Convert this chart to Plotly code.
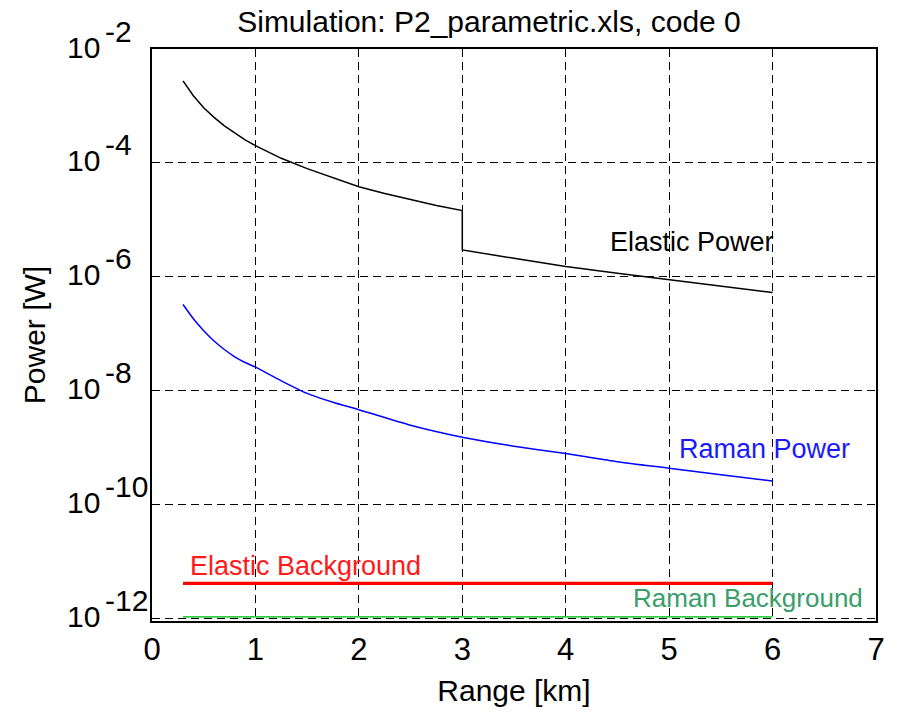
import math
import plotly.graph_objects as go

# ---- data ----
elastic_range = [0.3, 0.4, 0.5, 0.6, 0.7, 0.8, 0.9, 1.0, 1.25, 1.5, 1.75, 2.0, 2.25, 2.5, 2.75,
                 3.0, 3.0, 3.5, 4.0, 4.5, 5.0, 5.5, 6.0]
elastic_power = [2.75e-3, 1.51e-3, 9.3e-4, 6.3e-4, 4.47e-4, 3.31e-4, 2.54e-4, 2.0e-4, 1.2e-4, 7.9e-5,
                 5.5e-5, 3.8e-5, 2.9e-5, 2.24e-5, 1.78e-5, 1.45e-5, 2.95e-6, 2.1e-6, 1.51e-6,
                 1.15e-6, 8.9e-7, 6.9e-7, 5.25e-7]

raman_range = [0.3, 0.4, 0.5, 0.6, 0.7, 0.8, 0.9, 1.0, 1.25, 1.5, 1.75, 2.0, 2.5, 3.0, 3.5,
               4.0, 4.5, 5.0, 5.5, 6.0]
raman_power = [3.24e-7, 1.82e-7, 1.12e-7, 7.4e-8, 5.25e-8, 3.9e-8, 3.1e-8, 2.57e-8, 1.48e-8, 8.9e-9,
               6.2e-9, 4.6e-9, 2.45e-9, 1.51e-9, 1.05e-9, 7.8e-10, 5.6e-10, 4.3e-10, 3.3e-10, 2.57e-10]

background_range = [0.3, 6.0]
elastic_background = [4.1e-12, 4.1e-12]
raman_background = [1.05e-12, 1.05e-12]

x_ticks = [0, 1, 2, 3, 4, 5, 6, 7]
y_ticks = [1e-2, 1e-4, 1e-6, 1e-8, 1e-10, 1e-12]
y_tick_base = ["10", "10", "10", "10", "10", "10"]
y_tick_exp = ["-2", "-4", "-6", "-8", "-10", "-12"]

title_text = "Simulation: P2_parametric.xls, code 0"

FONT = "Liberation Sans, Arial, sans-serif"

fig = go.Figure()
fig.add_trace(go.Scatter(x=elastic_range, y=elastic_power, mode="lines",
                         line=dict(color="black", width=1.5), name="Elastic Power"))
fig.add_trace(go.Scatter(x=raman_range, y=raman_power, mode="lines",
                         line=dict(color="#0000ff", width=1.5, shape="spline", smoothing=0.6),
                         name="Raman Power"))
fig.add_trace(go.Scatter(x=background_range, y=elastic_background, mode="lines",
                         line=dict(color="#ff0000", width=3.2), name="Elastic Background"))
fig.add_trace(go.Scatter(x=background_range, y=raman_background, mode="lines",
                         line=dict(color="#33cc44", width=1.8), name="Raman Background"))

annotations = []
# curve labels
annotations.append(dict(x=4.41, y=-5.395, xref="x", yref="y", text="Elastic Power",
                        showarrow=False, xanchor="left", yanchor="middle",
                        font=dict(family=FONT, size=27, color="black")))
annotations.append(dict(x=5.08, y=-9.035, xref="x", yref="y", text="Raman Power",
                        showarrow=False, xanchor="left", yanchor="middle",
                        font=dict(family=FONT, size=27, color="#1a1aff")))
annotations.append(dict(x=0.35, y=-11.09, xref="x", yref="y", text="Elastic Background",
                        showarrow=False, xanchor="left", yanchor="middle",
                        font=dict(family=FONT, size=27, color="#ff1a1a")))
annotations.append(dict(x=4.63, y=-11.64, xref="x", yref="y", text="Raman Background",
                        showarrow=False, xanchor="left", yanchor="middle",
                        font=dict(family=FONT, size=26, color="#3a9e6a")))

# y tick labels (MATLAB-style 10 with full-size raised exponent)
for val, base, ex in zip(y_ticks, y_tick_base, y_tick_exp):
    lv = math.log10(val)
    annotations.append(dict(x=-0.069, y=lv, xref="paper", yref="y", text=base,
                            showarrow=False, xanchor="right", yanchor="middle", yshift=2,
                            font=dict(family=FONT, size=30, color="black")))
    annotations.append(dict(x=-0.068, y=lv, xref="paper", yref="y", text=ex,
                            showarrow=False, xanchor="left", yanchor="middle", yshift=18,
                            font=dict(family=FONT, size=30, color="black")))

fig.update_layout(
    width=899, height=714,
    margin=dict(l=152, r=23, t=49, b=93),
    paper_bgcolor="white", plot_bgcolor="white",
    showlegend=False,
    title=dict(text=title_text, x=489 / 899, xanchor="center", xref="container",
               y=1 - 21 / 714, yanchor="middle", yref="container",
               font=dict(family=FONT, size=30, color="black")),
    annotations=annotations,
)

fig.update_xaxes(range=[0, 7], tickvals=x_ticks, ticktext=[str(v) for v in x_ticks],
                 automargin=False,
                 showline=True, linecolor="black", linewidth=2, mirror=True,
                 showgrid=True, gridcolor="black", gridwidth=1.3, griddash="8px,5px",
                 zeroline=False, ticks="", ticklabelstandoff=0,
                 tickfont=dict(family=FONT, size=31, color="black"),
                 title=dict(text="Range [km]", standoff=14,
                            font=dict(family=FONT, size=30, color="black")))
fig.update_yaxes(type="log", range=[-12.05, -2], tickvals=y_ticks, showticklabels=False,
                 automargin=False,
                 showline=True, linecolor="black", linewidth=2, mirror=True,
                 showgrid=True, gridcolor="black", gridwidth=1.3, griddash="8px,5px",
                 zeroline=False, ticks="",
                 title=dict(text="Power [W]", standoff=96,
                            font=dict(family=FONT, size=30, color="black")))

fig.write_html("out.html")
